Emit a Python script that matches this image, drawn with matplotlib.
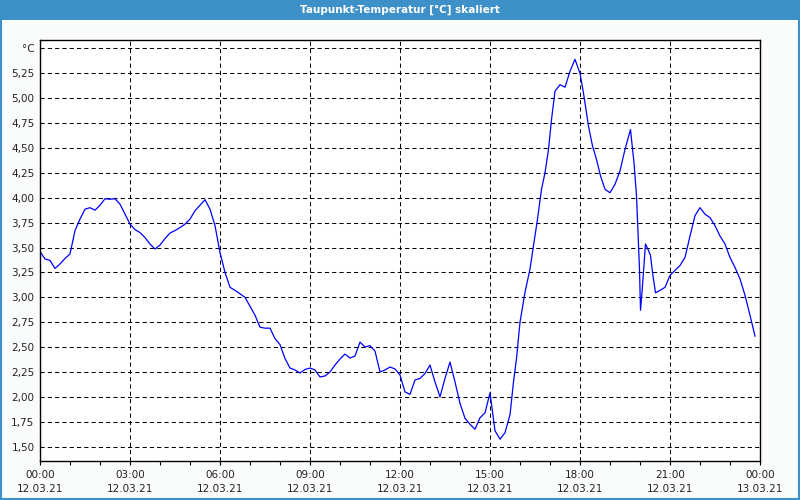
import numpy as np
import pandas as pd
import matplotlib
matplotlib.use("Agg")
import matplotlib.pyplot as plt
import matplotlib.dates as mdates
from matplotlib.patches import Rectangle

# =============================================================================
# Taupunkt-Temperatur, 12.03.21 (Minuten ab Mitternacht, Wert in °C)
# =============================================================================
minutes = [0, 10, 20, 30, 40, 50, 60, 70, 80, 90, 100, 110, 120, 130, 140, 150,
           160, 170, 180, 190, 200, 210, 220, 230, 240, 250, 260, 270, 280, 290,
           300, 310, 320, 330, 340, 350, 360, 370, 380, 390, 400, 410, 420, 430,
           440, 450, 460, 470, 480, 490, 500, 510, 520, 530, 540, 550, 560, 570,
           580, 590, 600, 610, 620, 630, 640, 650, 660, 670, 680, 690, 700, 710,
           720, 730, 740, 750, 760, 770, 780, 790, 800, 810, 820, 830, 840, 850,
           860, 870, 880, 890, 900, 910, 920, 930, 940, 947, 953, 960, 970, 980,
           987, 995, 1003, 1010, 1017, 1023, 1030, 1040, 1050, 1060, 1070, 1080,
           1087, 1097, 1105, 1113, 1121, 1130, 1140, 1150, 1160, 1170, 1181, 1188,
           1193, 1197, 1199, 1201, 1204, 1208, 1211, 1217, 1221, 1225, 1231, 1240,
           1250, 1260, 1270, 1280, 1290, 1300, 1310, 1320, 1330, 1340, 1350, 1360,
           1370, 1380, 1390, 1400, 1410, 1420, 1430]
dewpoint = [3.46, 3.385, 3.37, 3.29, 3.335, 3.39, 3.435, 3.67, 3.785, 3.885, 3.90,
            3.875, 3.925, 3.99, 3.985, 3.99, 3.935, 3.835, 3.735, 3.68, 3.65, 3.60,
            3.535, 3.485, 3.525, 3.59, 3.645, 3.67, 3.70, 3.735, 3.785, 3.87, 3.925,
            3.98, 3.885, 3.72, 3.45, 3.25, 3.10, 3.07, 3.035, 3.00, 2.91, 2.82, 2.70,
            2.69, 2.69, 2.585, 2.525, 2.385, 2.29, 2.27, 2.24, 2.275, 2.29, 2.27,
            2.20, 2.21, 2.25, 2.32, 2.38, 2.43, 2.39, 2.41, 2.55, 2.50, 2.515, 2.46,
            2.25, 2.27, 2.30, 2.28, 2.22, 2.05, 2.025, 2.17, 2.185, 2.235, 2.32, 2.15,
            2.00, 2.185, 2.35, 2.15, 1.935, 1.785, 1.725, 1.675, 1.79, 1.84, 2.04,
            1.66, 1.575, 1.64, 1.82, 2.15, 2.385, 2.75, 3.05, 3.285, 3.52, 3.785,
            4.085, 4.25, 4.485, 4.785, 5.07, 5.135, 5.11, 5.27, 5.39, 5.25, 5.05,
            4.72, 4.52, 4.385, 4.22, 4.085, 4.05, 4.135, 4.27, 4.485, 4.685, 4.35,
            4.02, 3.52, 3.285, 2.87, 3.05, 3.32, 3.535, 3.47, 3.42, 3.25, 3.045,
            3.07, 3.10, 3.22, 3.27, 3.32, 3.40, 3.615, 3.82, 3.90, 3.835, 3.80, 3.72,
            3.615, 3.535, 3.40, 3.30, 3.185, 3.02, 2.82, 2.61]

y_ticks = [1.50, 1.75, 2.00, 2.25, 2.50, 2.75, 3.00, 3.25, 3.50, 3.75, 4.00,
           4.25, 4.50, 4.75, 5.00, 5.25, 5.50]
y_labels = [f"{v:.2f}".replace(".", ",") for v in y_ticks[:-1]] + ["°C"]

title = "Taupunkt-Temperatur [°C] skaliert"

# =============================================================================
day = pd.Timestamp("2021-03-12")
times = day + pd.to_timedelta(minutes, unit="min")

frame_blue = "#3d91c8"
panel_bg = "#fafcfb"

fig = plt.figure(figsize=(8, 5), dpi=100)
fig.patch.set_facecolor(panel_bg)

# title bar and window border
fig.patches.append(Rectangle((0, 0.96), 1, 0.04, transform=fig.transFigure,
                             facecolor=frame_blue, edgecolor="none", zorder=0))
fig.patches.append(Rectangle((0.001, 0.002), 0.998, 0.997, transform=fig.transFigure,
                             facecolor="none", edgecolor=frame_blue, linewidth=1.5,
                             zorder=0))
fig.text(0.5, 0.98, title, color="white", fontsize=7.5, ha="center", va="center",
         fontweight="semibold")

ax = fig.add_axes([0.05, 0.078, 0.90, 0.842])
ax.set_facecolor("white")
ax.plot(times, dewpoint, color="#0000ff", linewidth=0.9)

ax.set_xlim(day, day + pd.Timedelta(days=1))
ax.set_ylim(1.356, 5.584)
ax.set_yticks(y_ticks)
ax.set_yticklabels(y_labels)

ax.xaxis.set_major_locator(mdates.HourLocator(byhour=range(0, 24, 3)))
ax.xaxis.set_minor_locator(mdates.HourLocator())
ax.xaxis.set_major_formatter(mdates.DateFormatter("%H:%M\n%d.%m.%y"))
for lbl in ax.get_xticklabels():
    lbl.set_linespacing(1.45)

ax.tick_params(axis="y", length=0, pad=4, labelsize=7.5, labelcolor="#222222")
ax.tick_params(axis="x", which="both", length=3, width=0.8, direction="out",
               pad=3.5, labelsize=7.5, labelcolor="#222222")

ax.grid(True, which="major", color="black", linestyle=(0, (4, 3)), linewidth=0.75)
for s in ax.spines.values():
    s.set_linewidth(1.0)
    s.set_color("black")

fig.savefig("out.png", dpi=100, facecolor=fig.get_facecolor())
